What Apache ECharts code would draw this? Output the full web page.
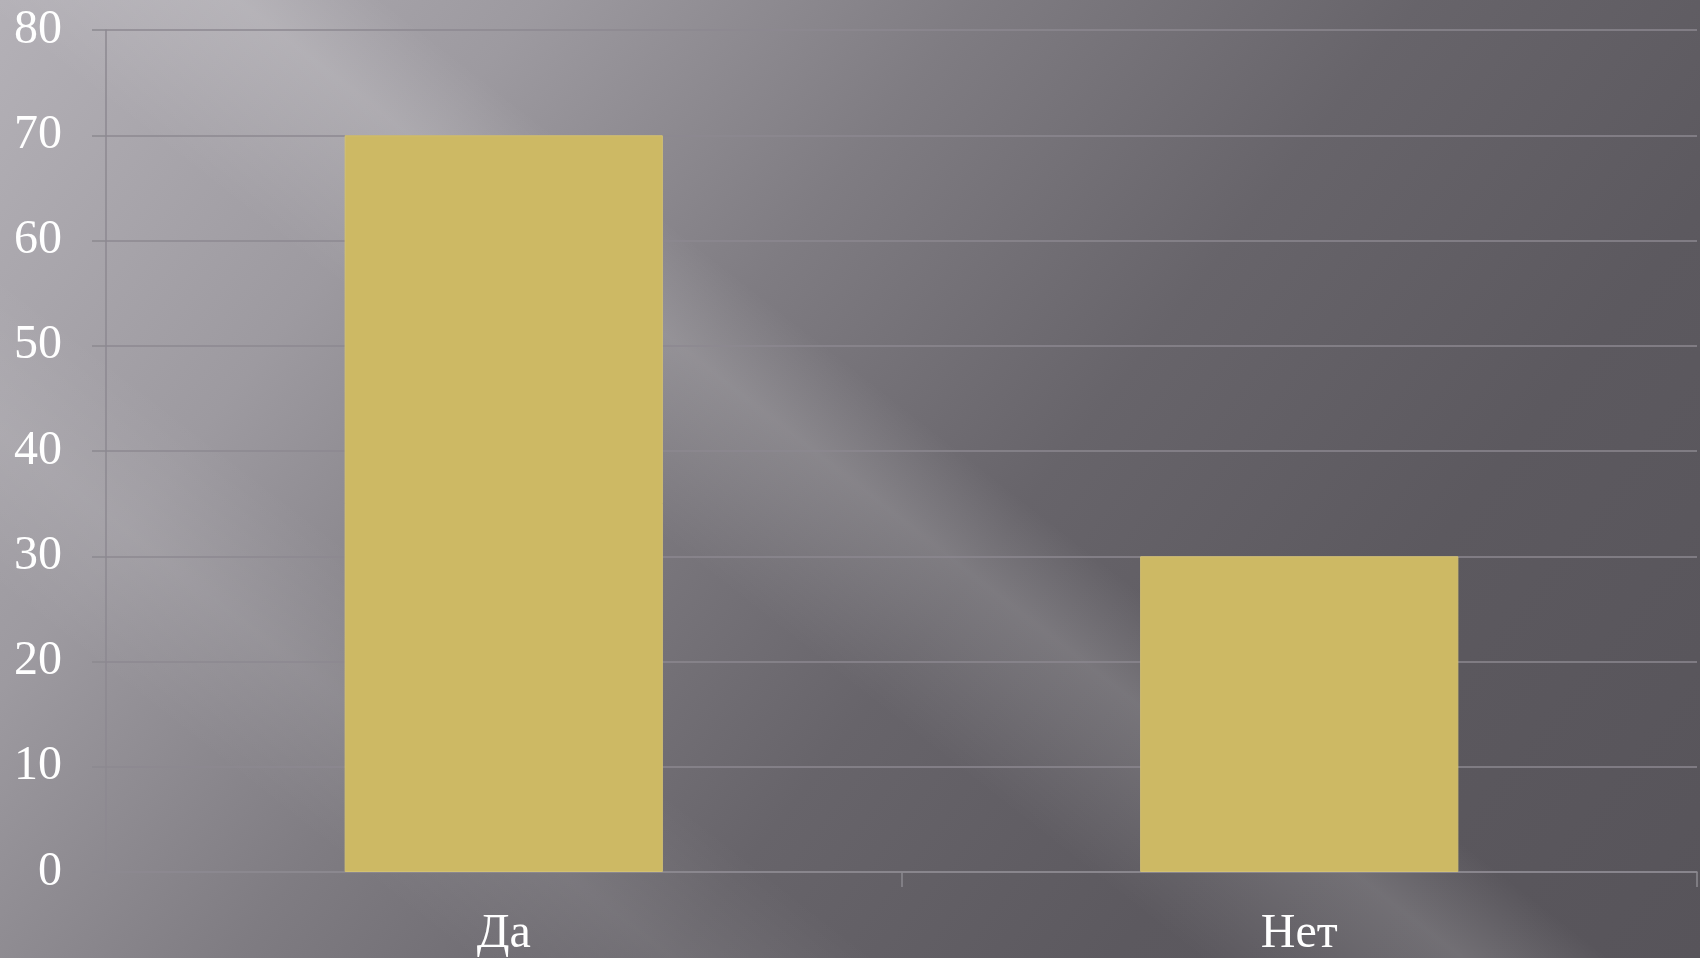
<html>
<head>
    <meta http-equiv="Content-Type" content="text/html; charset=utf-8">
    <script src="https://cdn.jsdelivr.net/npm/echarts@6/dist/echarts.min.js"></script>
    <style>
        * {
            margin: 0;
            padding: 0;
        }

        body {
            width: 1700px;
            height: 958px;
            overflow: hidden;
        }

        /* фон слайда: серый градиент с диагональными бликами */
        #main {
            width: 1700px;
            height: 958px;
            background:
                linear-gradient(38deg, rgba(255,255,255,0) 41%, rgba(255,255,255,0.10) 47%, rgba(255,255,255,0.15) 50%, rgba(255,255,255,0) 55%),
                linear-gradient(38deg, rgba(255,255,255,0) 16%, rgba(255,255,255,0.08) 23%, rgba(255,255,255,0) 30%),
                linear-gradient(128deg, #b4b1b7 0%, #9d9aa0 22%, #7f7c82 40%, #67646a 58%, #5c595f 76%, #57545a 100%);
        }
    </style>
</head>
<body>
<div id="main"></div>
<script type="text/javascript">
    // данные
    let categories = ['Да', 'Нет'];
    let values = [70, 30];
    let yTicks = [0, 10, 20, 30, 40, 50, 60, 70, 80];

    let myChart = echarts.init(document.getElementById('main'));

    let labelFont = {
        color: '#ffffff',
        fontFamily: 'Liberation Serif',
        fontSize: 48
    };

    let option = {
        backgroundColor: 'transparent',
        animation: false,
        grid: {
            left: 106,
            right: 3,
            top: 30,
            bottom: 85,
            containLabel: false
        },
        xAxis: {
            type: 'category',
            data: categories,
            axisLine: {lineStyle: {color: '#8c8990', width: 1.5}},
            axisTick: {show: true, length: 15, lineStyle: {color: '#8c8990', width: 1.5}},
            axisLabel: Object.assign({margin: 38}, labelFont)
        },
        yAxis: {
            type: 'value',
            min: yTicks[0],
            max: yTicks[yTicks.length - 1],
            interval: yTicks[1] - yTicks[0],
            axisLine: {show: true, lineStyle: {color: '#8c8990', width: 1.5}},
            axisTick: {show: true, length: 14, lineStyle: {color: '#8c8990', width: 1.5}},
            splitLine: {lineStyle: {color: '#8c8990', width: 1.5}},
            axisLabel: Object.assign({margin: 44}, labelFont)
        },
        series: [
            {
                type: 'bar',
                data: values,
                barWidth: '40%',
                itemStyle: {
                    color: '#cdb964',
                    borderColor: '#d3c172',
                    borderWidth: 1
                }
            }
        ]
    };

    myChart.setOption(option);
</script>
</body>
</html>
